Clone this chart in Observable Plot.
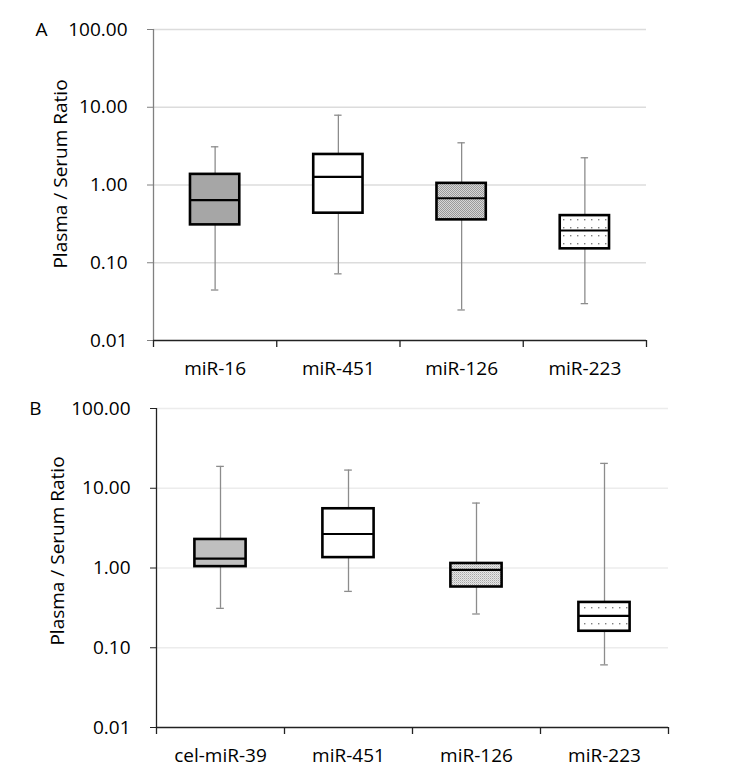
<!DOCTYPE html>
<html>
<head>
<meta charset="utf-8">
<script src="https://cdn.jsdelivr.net/npm/d3@7"></script>
<script src="https://cdn.jsdelivr.net/npm/@observablehq/plot@0.6"></script>
<style>
  body { margin: 0; background: white; }
  #wrap { position: relative; width: 739px; height: 776px; background: white; }
  #a, #b { position: absolute; left: 0; }
  #a { top: 0; }
  #b { top: 380px; }
</style>
</head>
<body>
<div id="wrap"><div id="a"></div><div id="b"></div></div>
<script>
// ---- Data ----
const yTicks = [0.01, 0.1, 1, 10, 100];
const yLabel = "Plasma / Serum Ratio";

const catsA = ["miR-16", "miR-451", "miR-126", "miR-223"];
const lowA  = [0.0446, 0.072, 0.0247, 0.0298];
const q1A   = [0.307, 0.434, 0.356, 0.151];
const medA  = [0.64, 1.27, 0.675, 0.26];
const q3A   = [1.37, 2.47, 1.05, 0.404];
const highA = [3.1, 7.9, 3.49, 2.24];
const fillsA = ["url(#solidA)", "white", "url(#checkA)", "url(#dotsA)"];

const catsB = ["cel-miR-39", "miR-451", "miR-126", "miR-223"];
const lowB  = [0.312, 0.509, 0.265, 0.061];
const q1B   = [1.04, 1.35, 0.578, 0.161];
const medB  = [1.31, 2.67, 0.95, 0.251];
const q3B   = [2.28, 5.53, 1.14, 0.37];
const highB = [18.8, 16.9, 6.52, 20.5];
const fillsB = ["url(#solidB)", "white", "url(#fineB)", "url(#dotsB)"];

function defsMark(suffix) {
  return () => {
    const ns = "http://www.w3.org/2000/svg";
    const defs = document.createElementNS(ns, "defs");
    defs.innerHTML = `
      <pattern id="checkA${suffix === "A" ? "" : "_x"}" width="2" height="2" patternUnits="userSpaceOnUse">
        <rect width="2" height="2" fill="#d6d6d6"/>
        <rect width="1" height="1" fill="#9a9a9a"/>
        <rect x="1" y="1" width="1" height="1" fill="#9a9a9a"/>
      </pattern>
      <pattern id="dots${suffix}" width="7" height="8" patternUnits="userSpaceOnUse">
        <rect width="7" height="8" fill="white"/>
        <rect x="3" y="3" width="1.4" height="1.4" fill="#808080"/>
      </pattern>
      <pattern id="fineB${suffix === "B" ? "" : "_x"}" width="2" height="2" patternUnits="userSpaceOnUse">
        <rect width="2" height="2" fill="#e6e6e6"/>
        <rect width="1" height="1" fill="#a6a6a6"/>
        <rect x="1" y="1" width="1" height="1" fill="#c8c8c8"/>
      </pattern>
      <pattern id="solid${suffix}" width="4" height="4" patternUnits="userSpaceOnUse">
        <rect width="4" height="4" fill="${suffix === "A" ? "#a6a6a6" : "#bfbfbf"}"/>
      </pattern>`;
    return defs;
  };
}

function panel(o) {
  const rows = o.cats.map((c, i) => ({
    c, i, low: o.low[i], q1: o.q1[i], med: o.med[i], q3: o.q3[i], high: o.high[i], fill: o.fills[i]
  }));
  const n = o.cats.length;
  const bounds = d3.range(n + 1);
  const centers = d3.range(n).map(i => i + 0.5);
  const half = 0.2, cap = 0.03;
  return Plot.plot({
    width: 739,
    height: o.height,
    marginLeft: o.marginLeft,
    marginRight: o.marginRight,
    marginTop: o.marginTop,
    marginBottom: o.marginBottom,
    style: { fontFamily: "'Open Sans', sans-serif", fontSize: "19px", color: "black", background: "white", overflow: "visible" },
    x: { type: "linear", domain: [0, n], axis: null },
    y: { type: "log", domain: [0.01, 100], axis: null },
    marks: [
      defsMark(o.id),
      Plot.ruleY(yTicks.slice(1), { stroke: o.gridColor, strokeWidth: 1.3 }),
      Plot.ruleX(rows, { x: d => d.i + 0.5, y1: "low", y2: "high", stroke: "#8c8c8c", strokeWidth: 1.3 }),
      Plot.ruleY(rows, { y: "low", x1: d => d.i + 0.5 - cap, x2: d => d.i + 0.5 + cap, stroke: "#8c8c8c", strokeWidth: 1.3 }),
      Plot.ruleY(rows, { y: "high", x1: d => d.i + 0.5 - cap, x2: d => d.i + 0.5 + cap, stroke: "#8c8c8c", strokeWidth: 1.3 }),
      ...rows.map(d => Plot.rect([d], { x1: r => r.i + 0.5 - half, x2: r => r.i + 0.5 + half, y1: "q1", y2: "q3", fill: d.fill, stroke: "black", strokeWidth: 2.6 })),
      Plot.ruleY(rows, { y: "med", x1: d => d.i + 0.5 - half, x2: d => d.i + 0.5 + half, stroke: "black", strokeWidth: 2.2 }),
      Plot.ruleX([0], { stroke: o.yAxisColor, strokeWidth: 1.3 }),
      Plot.ruleY([0.01], { stroke: "#222", strokeWidth: 1.5 }),
      Plot.axisY({ ticks: yTicks, tickFormat: d => d.toFixed(2), tickSize: 6, tickPadding: 20, fontSize: 19, stroke: o.yAxisColor, label: null }),
      Plot.axisX({ ticks: bounds, tickSize: 7, tickFormat: () => "", stroke: "#222", strokeWidth: 1.3, label: null }),
      Plot.axisX({ ticks: centers, tickSize: 0, tickPadding: 21, fontSize: 19, tickFormat: v => o.cats[Math.floor(v)], label: null }),
      Plot.text([yLabel], { frameAnchor: "left", textAnchor: "middle", lineAnchor: "middle", rotate: -90, dx: o.labelDx, dy: o.labelDy, fontSize: 19, text: d => d }),
      Plot.text([o.letter], { frameAnchor: "top-left", dx: o.letterDx, dy: 0, fontSize: 19, textAnchor: "middle", lineAnchor: "middle", text: d => d })
    ]
  });
}

document.getElementById("a").append(panel({
  id: "A", cats: catsA, low: lowA, q1: q1A, med: medA, q3: q3A, high: highA, fills: fillsA,
  height: 380, marginLeft: 153, marginRight: 93, marginTop: 29, marginBottom: 40,
  yAxisColor: "#808080", gridColor: "#dcdcdc", labelDx: -93, labelDy: -11, letter: "A", letterDx: -112
}));
document.getElementById("b").append(panel({
  id: "B", cats: catsB, low: lowB, q1: q1B, med: medB, q3: q3B, high: highB, fills: fillsB,
  height: 396, marginLeft: 156, marginRight: 71, marginTop: 28, marginBottom: 49,
  yAxisColor: "#222", gridColor: "#ececec", labelDx: -99, labelDy: -17, letter: "B", letterDx: -121
}));
</script>
</body>
</html>
